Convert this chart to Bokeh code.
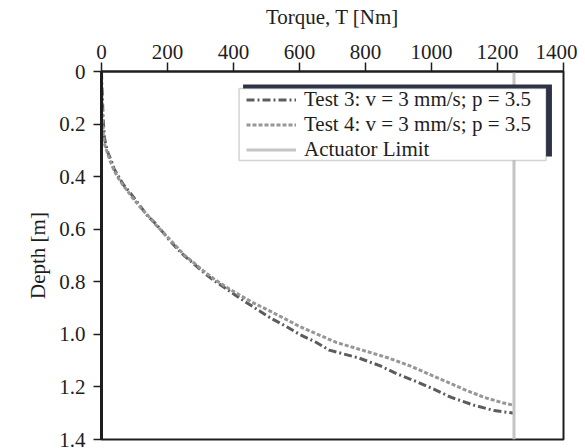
from bokeh.plotting import figure
from bokeh.models import Range1d, FixedTicker, CustomJSTickFormatter, BoxAnnotation
from bokeh.embed import file_html
from bokeh.resources import INLINE

# ---- data ----
test3_depth = [0.00, 0.05, 0.10, 0.15, 0.20, 0.25, 0.28, 0.31, 0.34, 0.37, 0.40, 0.43, 0.46,
               0.49, 0.52, 0.55, 0.58, 0.61, 0.64, 0.67, 0.70, 0.73, 0.76, 0.79, 0.82, 0.85,
               0.88, 0.91, 0.94, 0.97, 1.00, 1.03, 1.06, 1.09, 1.12, 1.15, 1.18, 1.21, 1.24,
               1.27, 1.29, 1.30]
test3_torque = [0, 1, 3, 4, 6, 9, 13, 20, 30, 38, 52, 66, 86,
                104, 122, 140, 165, 185, 205, 226, 250, 278, 305, 335, 370, 405,
                440, 478, 515, 560, 600, 650, 690, 780, 845, 895, 955, 1010, 1060,
                1130, 1190, 1250]

test4_depth = [0.00, 0.05, 0.10, 0.15, 0.20, 0.25, 0.28, 0.31, 0.34, 0.37, 0.40, 0.43, 0.46,
               0.49, 0.52, 0.55, 0.58, 0.61, 0.64, 0.67, 0.70, 0.73, 0.76, 0.79, 0.82, 0.85,
               0.88, 0.91, 0.94, 0.97, 1.00, 1.03, 1.06, 1.09, 1.12, 1.15, 1.18, 1.21, 1.24,
               1.26, 1.27]
test4_torque = [0, 0, 1, 2, 4, 6, 10, 18, 26, 36, 48, 64, 82,
                100, 120, 142, 162, 185, 208, 230, 252, 282, 310, 342, 378, 418,
                460, 508, 555, 600, 655, 710, 790, 870, 935, 990, 1045, 1100, 1160,
                1215, 1250]

actuator_limit = 1250

x_ticks = [0, 200, 400, 600, 800, 1000, 1200, 1400]
y_ticks = [0, 0.2, 0.4, 0.6, 0.8, 1.0, 1.2, 1.4]

label3 = "Test 3: v = 3 mm/s; p = 3.5"
label4 = "Test 4: v = 3 mm/s; p = 3.5"
label_lim = "Actuator Limit"

FONT = "Liberation Serif"
FS = "21px"
INK = "#1e1e1e"

p = figure(frame_width=462, frame_height=368,
           min_border_left=101, min_border_right=14, min_border_top=71, min_border_bottom=8,
           x_range=Range1d(x_ticks[0], x_ticks[-1]), y_range=Range1d(y_ticks[-1], y_ticks[0]),
           x_axis_location="above", output_backend="svg", toolbar_location=None, tools="")

p.background_fill_color = "white"
p.border_fill_color = "white"
p.outline_line_color = INK
p.outline_line_width = 2
p.xgrid.visible = False
p.ygrid.visible = False

# x axis (top)
xa = p.xaxis[0]
xa.ticker = FixedTicker(ticks=x_ticks)
xa.axis_label = "Torque, T [Nm]"
xa.axis_line_color = INK
xa.axis_line_width = 2
xa.major_tick_line_color = INK
xa.major_tick_line_width = 1.5
xa.major_tick_out = 9
xa.major_tick_in = 0
xa.minor_tick_line_color = None
xa.major_label_standoff = 4
xa.axis_label_standoff = 13
xa.major_label_text_font = FONT
xa.major_label_text_font_size = FS
xa.major_label_text_color = INK
xa.axis_label_text_font = FONT
xa.axis_label_text_font_size = FS
xa.axis_label_text_font_style = "normal"
xa.axis_label_text_color = INK

# y axis (left)
ya = p.yaxis[0]
ya.ticker = FixedTicker(ticks=y_ticks)
ya.formatter = CustomJSTickFormatter(code="return tick === 0 ? '0' : tick.toFixed(1);")
ya.axis_label = "Depth [m]"
ya.axis_line_color = INK
ya.axis_line_width = 3
ya.major_tick_line_color = INK
ya.major_tick_line_width = 1.5
ya.major_tick_out = 8
ya.major_tick_in = 0
ya.minor_tick_line_color = None
ya.major_label_standoff = 8
ya.axis_label_standoff = 6
ya.major_label_text_font = FONT
ya.major_label_text_font_size = FS
ya.major_label_text_color = INK
ya.axis_label_text_font = FONT
ya.axis_label_text_font_size = FS
ya.axis_label_text_font_style = "normal"
ya.axis_label_text_color = INK

# legend frame with shadow (drawn before the legend itself)
shadow = BoxAnnotation(left=429, right=1365, top=0.0495, bottom=0.3234,
                       fill_color="#2d3346", fill_alpha=1.0, line_color=None)
frame_box = BoxAnnotation(left=417, right=1347, top=0.0647, bottom=0.3386,
                          fill_color="white", fill_alpha=1.0,
                          line_color="#707070", line_width=1.5)
p.add_layout(shadow)
p.add_layout(frame_box)

p.line(test3_torque, test3_depth, line_color="#5c5c5c", line_width=3,
       line_dash="8 3 2 3", legend_label=label3)
p.line(test4_torque, test4_depth, line_color="#979797", line_width=3,
       line_dash="4 2", legend_label=label4)
p.line([actuator_limit, actuator_limit], [y_ticks[0], y_ticks[-1]],
       line_color="#c4c4c4", line_width=3, legend_label=label_lim)

leg = p.legend[0]
leg.location = (139, 271)
leg.border_line_alpha = 0
leg.background_fill_alpha = 0
leg.padding = 6
leg.spacing = 0
leg.margin = 0
leg.glyph_width = 50
leg.glyph_height = 21
leg.label_height = 21
leg.label_standoff = 8
leg.label_text_font = FONT
leg.label_text_font_size = FS
leg.label_text_line_height = 1.0
leg.label_text_color = INK

open("out.html", "w").write(file_html(p, INLINE))
